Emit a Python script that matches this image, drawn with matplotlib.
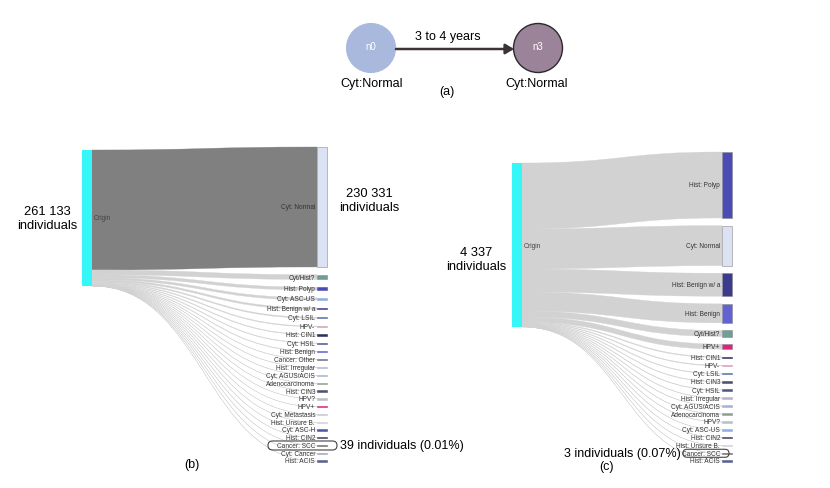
import matplotlib
matplotlib.use("Agg")
import matplotlib.pyplot as plt
from matplotlib.path import Path
from matplotlib.patches import PathPatch, Rectangle, Circle, FancyBboxPatch, FancyArrowPatch

plt.rcParams["font.family"] = ["Liberation Sans", "DejaVu Sans"]

# panel (b): all follow-ups of 261 133 individuals
b_total = 261133
b_names = ["Cyt: Normal", "Cyt/Hist?", "Hist: Polyp", "Cyt: ASC-US", "Hist: Benign w/ a",
           "Cyt: LSIL", "HPV-", "Hist: CIN1", "Cyt: HSIL", "Hist: Benign", "Cancer: Other",
           "Hist: Irregular", "Cyt: AGUS/ACIS", "Adenocarcinoma", "Hist: CIN3", "HPV?", "HPV+",
           "Cyt: Metastasis", "Hist: Unsure B.", "Cyt: ASC-H", "Hist: CIN2", "Cancer: SCC",
           "Cyt: Cancer", "Hist: ACIS"]
b_counts = [230331, 9200, 5400, 4300, 3300, 2100, 1500, 1200, 1000, 900, 500,
            320, 250, 200, 150, 120, 100, 80, 60, 22, 20, 39, 25, 16]

# panel (c): 4 337 individuals
c_total = 4337
c_names = ["Hist: Polyp", "Cyt: Normal", "Hist: Benign w/ a", "Hist: Benign", "Cyt/Hist?",
           "HPV+", "Hist: CIN1", "HPV-", "Cyt: LSIL", "Hist: CIN3", "Cyt: HSIL",
           "Hist: Irregular", "Cyt: AGUS/ACIS", "Adenocarcinoma", "HPV?", "Cyt: ASC-US",
           "Hist: CIN2", "Hist: Unsure B.", "Cancer: SCC", "Hist: ACIS"]
c_counts = [1745, 1058, 608, 502, 159, 132, 22, 18, 15, 13, 12, 10, 9, 8, 7, 6, 5, 4, 3, 1]

node_colors = {
    "Cyt: Normal": "#dae2f4", "Cyt/Hist?": "#6e9f97", "Hist: Polyp": "#4b4bb5",
    "Cyt: ASC-US": "#8eaee6", "Hist: Benign w/ a": "#3b3b8e", "Cyt: LSIL": "#5570a8",
    "HPV-": "#d4a0b4", "Hist: CIN1": "#2e2e60", "Cyt: HSIL": "#4a5a8c",
    "Hist: Benign": "#6262d2", "Cancer: Other": "#707080", "Hist: Irregular": "#b4b4d0",
    "Cyt: AGUS/ACIS": "#a8b0d8", "Adenocarcinoma": "#8fa08f", "Hist: CIN3": "#505070",
    "HPV?": "#b8c0c8", "HPV+": "#e0207a", "Cyt: Metastasis": "#c8c8d8",
    "Hist: Unsure B.": "#d0d0d8", "Cyt: ASC-H": "#4a5aa8", "Hist: CIN2": "#404060",
    "Cancer: SCC": "#707070", "Cyt: Cancer": "#a0a8b8", "Hist: ACIS": "#5a6090",
}
ORIGIN_COLOR = "#36f7f7"


def band(ax, x0, x1, s0, s1, t0, t1, color):
    xm = (x0 + x1) / 2
    verts = [(x0, s0), (xm, s0), (xm, t0), (x1, t0), (x1, t1),
             (xm, t1), (xm, s1), (x0, s1), (x0, s0)]
    codes = [Path.MOVETO, Path.CURVE4, Path.CURVE4, Path.CURVE4, Path.LINETO,
             Path.CURVE4, Path.CURVE4, Path.CURVE4, Path.CLOSEPOLY]
    ax.add_patch(PathPatch(Path(verts, codes), facecolor=color, edgecolor=color,
                           lw=0.25, zorder=1))


def sankey(ax, names, counts, total, x_src, x_tgt, src_top, src_h, tgt_top, tgt_bot,
           dark=None, node_w=10):
    scale = src_h / total
    heights = [c * scale for c in counts]
    pad = (tgt_bot - tgt_top - sum(heights)) / (len(names) - 1)
    centers = {}
    s = src_top
    t = tgt_top
    for name, h in zip(names, heights):
        col = "#808080" if name == dark else "#d2d2d2"
        band(ax, x_src + node_w, x_tgt, s, s + h, t, t + h, col)
        hd = max(h, 1.3)
        cy = t + h / 2
        ax.add_patch(Rectangle((x_tgt, cy - hd / 2), node_w, hd,
                               facecolor=node_colors[name],
                               edgecolor="#8a8a8a" if h > 3 else node_colors[name],
                               lw=0.4, zorder=3))
        ax.text(x_tgt - 2, cy, name, ha="right", va="center", fontsize=4.7,
                color="#333333", zorder=4)
        centers[name] = cy
        s += h
        t += h + pad
    ax.add_patch(Rectangle((x_src, src_top), node_w, src_h, facecolor=ORIGIN_COLOR,
                           edgecolor="none", zorder=3))
    ax.text(x_src + node_w + 2, src_top + src_h / 2, "Origin", ha="left", va="center",
            fontsize=4.7, color="#444444", zorder=4)
    return centers


fig = plt.figure(figsize=(8.3, 4.89), dpi=100)
ax = fig.add_axes([0, 0, 1, 1])
ax.set_xlim(0, 830)
ax.set_ylim(489, 0)
ax.axis("off")

# (a) transition graph
ax.add_patch(Circle((371, 49), 24.5, facecolor="#a9b9dd", edgecolor="#a9b9dd", lw=0.8))
ax.add_patch(Circle((538, 49), 24.5, facecolor="#9b8499", edgecolor="#2a2a2a", lw=1.0))
ax.text(371, 47, "n0", ha="center", va="center", fontsize=7, color="white")
ax.text(538, 47, "n3", ha="center", va="center", fontsize=7, color="white")
ax.add_patch(FancyArrowPatch((396, 50), (514, 50), arrowstyle="-|>,head_length=5,head_width=3",
                             color="#3c3434", lw=1.8, shrinkA=0, shrinkB=0))
ax.text(448, 37, "3 to 4 years", ha="center", va="center", fontsize=9)
ax.text(372, 84, "Cyt:Normal", ha="center", va="center", fontsize=9)
ax.text(537, 84, "Cyt:Normal", ha="center", va="center", fontsize=9)
ax.text(447, 92, "(a)", ha="center", va="center", fontsize=9)

# (b)
cb = sankey(ax, b_names, b_counts, b_total, 82, 317, 151, 136, 148, 462, dark="Cyt: Normal")
ax.text(47, 219, "261 133\nindividuals", ha="center", va="center", fontsize=9.3, linespacing=1.2)
ax.text(369, 201, "230 331\nindividuals", ha="center", va="center", fontsize=9.3, linespacing=1.2)
ax.add_patch(FancyBboxPatch((268, cb["Cancer: SCC"] - 4.5), 69, 9,
                            boxstyle="round,pad=0,rounding_size=4.5",
                            facecolor="none", edgecolor="#444444", lw=0.8, zorder=5))
ax.text(340, cb["Cancer: SCC"], "39 individuals (0.01%)", ha="left", va="center", fontsize=9)
ax.text(192, 465, "(b)", ha="center", va="center", fontsize=9)

# (c)
cc = sankey(ax, c_names, c_counts, c_total, 512, 722, 164, 164, 153, 462)
ax.text(476, 260, "4 337\nindividuals", ha="center", va="center", fontsize=9.3, linespacing=1.2)
ax.add_patch(FancyBboxPatch((683, cc["Cancer: SCC"] - 4), 46, 8,
                            boxstyle="round,pad=0,rounding_size=4",
                            facecolor="none", edgecolor="#444444", lw=0.8, zorder=5))
ax.text(681, cc["Cancer: SCC"], "3 individuals (0.07%)", ha="right", va="center", fontsize=9)
ax.text(606, 467, "(c)", ha="center", va="center", fontsize=9)

fig.savefig("out.png", dpi=100)
